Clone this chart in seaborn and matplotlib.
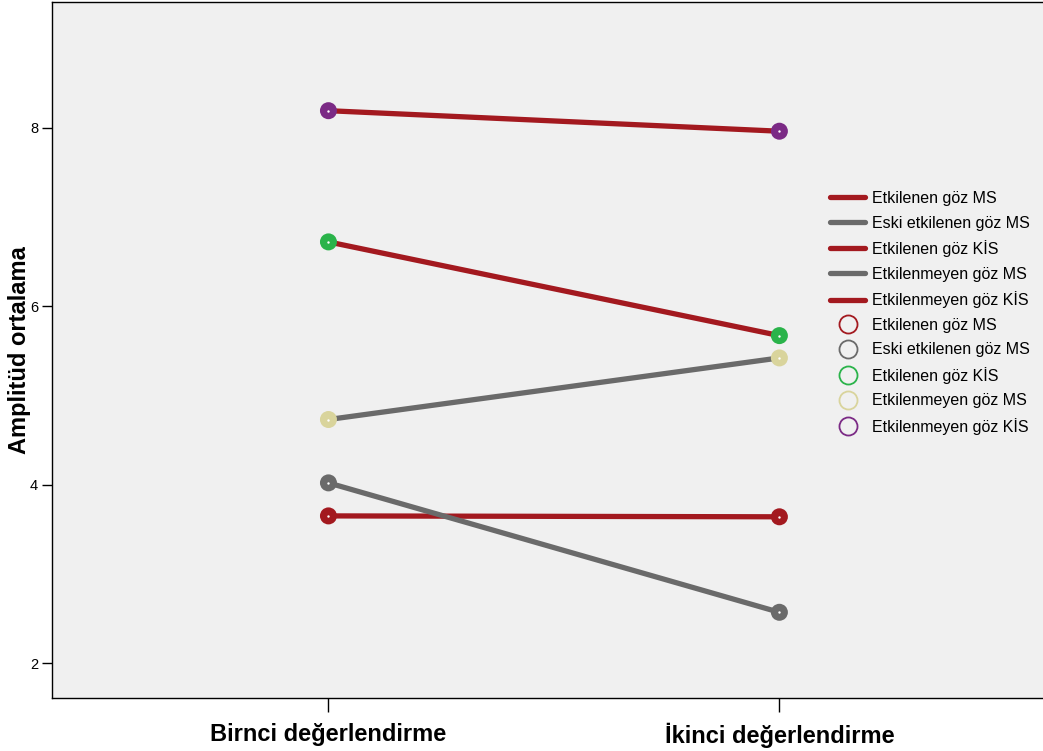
import numpy as np
import pandas as pd
import matplotlib
matplotlib.use('Agg')
import matplotlib.pyplot as plt
from matplotlib.lines import Line2D
import seaborn as sns

sns.set_style('white')
plt.rcParams['font.family'] = ['Liberation Sans', 'DejaVu Sans']
plt.rcParams['text.color'] = 'black'
plt.rcParams['xtick.color'] = 'black'
plt.rcParams['ytick.color'] = 'black'
plt.rcParams['axes.labelcolor'] = 'black'

# ── Data ──────────────────────────────────────────────────────────────────────
occasions = ['Birnci değerlendirme', 'İkinci değerlendirme']
groups = ['Etkilenen göz MS', 'Eski etkilenen göz MS', 'Etkilenen göz KİS',
          'Etkilenmeyen göz MS', 'Etkilenmeyen göz KİS']
first_vals  = [3.65, 4.02, 6.72, 4.73, 8.19]
second_vals = [3.64, 2.57, 5.67, 5.42, 7.96]

line_colors   = ['#a3191f', '#6a6a6a', '#a3191f', '#6a6a6a', '#a3191f']
marker_colors = ['#a3191f', '#6a6a6a', '#2ab34a', '#d9d49c', '#7b2a85']

rows = []
for g, a, b in zip(groups, first_vals, second_vals):
    rows.append({'grup': g, 'x': 0, 'amp': a})
    rows.append({'grup': g, 'x': 1, 'amp': b})
df = pd.DataFrame(rows)

fig = plt.figure(figsize=(10.43, 7.51), dpi=100)
ax = fig.add_axes([0.0499, 0.0706, 0.952, 0.927])
ax.set_facecolor('#f0f0f0')

sns.lineplot(data=df, x='x', y='amp', hue='grup', hue_order=groups,
             palette=line_colors, linewidth=3.8, legend=False, ax=ax)
sns.scatterplot(data=df, x='x', y='amp', hue='grup', hue_order=groups,
                palette=marker_colors, s=150, linewidth=0, legend=False,
                zorder=3, ax=ax)
ax.scatter(df['x'], df['amp'], s=3, color='white', zorder=4, linewidth=0)

ax.set_xlim(-0.613, 1.589)
ax.set_ylim(1.61, 9.41)
ax.set_xticks([0, 1])
ax.set_xticklabels(occasions, fontsize=17, fontweight='bold')
ax.set_yticks([2, 4, 6, 8])
ax.set_yticklabels(['2', '4', '6', '8'], fontsize=10.5)
ax.set_xlabel('')
ax.set_ylabel('Amplitüd ortalama', fontsize=17, fontweight='bold')
ax.yaxis.set_label_coords(-0.021, 0.5)
ax.tick_params(axis='x', direction='out', length=10, width=1, pad=8, bottom=True)
ax.tick_params(axis='y', direction='out', length=7, width=1, pad=3, left=True)
for side in ['left', 'bottom', 'top']:
    ax.spines[side].set_color('black')
    ax.spines[side].set_linewidth(1)
ax.spines['right'].set_visible(False)

handles = [Line2D([], [], color=c, linewidth=3.8) for c in line_colors]
handles += [Line2D([], [], linestyle='none', marker='o', markersize=13,
                   markerfacecolor='none', markeredgecolor=c, markeredgewidth=1.3)
            for c in marker_colors]
labels = groups + groups
ax.legend(handles, labels, loc='upper left', bbox_to_anchor=(0.769, 0.749),
          frameon=False, fontsize=11.5, handlelength=2.2, labelspacing=0.6,
          handletextpad=0.45)

plt.savefig('out.png', dpi=100)
plt.close()
